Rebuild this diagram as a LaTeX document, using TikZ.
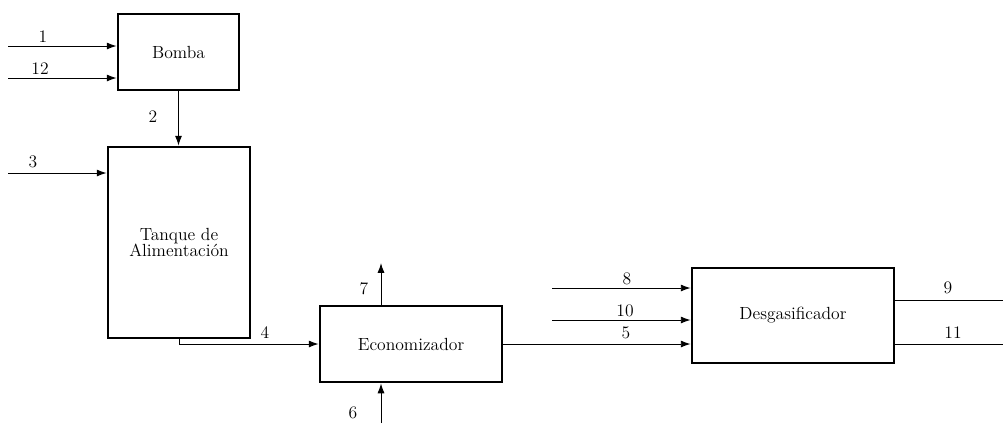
\documentclass[tikz,border=0pt]{standalone}
\usetikzlibrary{arrows.meta, positioning, calc}

\begin{document}
\begin{tikzpicture}[x=0.025cm, y=-0.025cm, font=\fontsize{12.5}{15}\selectfont,
  unit/.style={draw, line width=2pt, inner sep=0pt, align=center},
  flow/.style={-{Latex[length=7pt, width=5pt]}, line width=0.7pt},
  pipe/.style={line width=0.7pt},
  tag/.style={inner sep=1pt}]
  \useasboundingbox (0,0) rectangle (1003,423);

  % ---- Equipment ----
  \node[unit, minimum width={121*0.025cm}, minimum height={76*0.025cm}]
    (bomba) at (178.5, 52) {Bomba};
  \node[unit, minimum width={142*0.025cm}, minimum height={191*0.025cm},
    font=\fontsize{12.5}{11.5}\selectfont]
    (tanque) at (179, 242.5) {Tanque de\\Alimentación};
  \node[unit, minimum width={182*0.025cm}, minimum height={76*0.025cm}]
    (econ) at (411, 344) {Economizador};
  \node[unit, minimum width={202*0.025cm}, minimum height={95*0.025cm}]
    (desg) at (793, 315.5) {Desgasificador};

  % ---- Free ends of the streams ----
  \coordinate (in1)   at (8, 46);
  \coordinate (in12)  at (8, 78);
  \coordinate (in3)   at (8, 173);
  \coordinate (out7)  at (381, 263);
  \coordinate (in6)   at (381, 423);
  \coordinate (in8)   at (552, 288);
  \coordinate (in10)  at (552, 320);
  \coordinate (out9)  at (1003, 300);
  \coordinate (out11) at (1003, 344);

  % ---- Streams ----
  \draw[flow] (in1) -- (in1 -| bomba.west);
  \draw[flow] (in12) -- (in12 -| bomba.west);
  \draw[flow] (bomba.south) -- (bomba.south |- tanque.north);
  \draw[flow] (in3) -- (in3 -| tanque.west);
  \draw[flow] (tanque.south) |- (econ.west);
  \draw[flow] (out7 |- econ.north) -- (out7);
  \draw[flow] (in6) -- (in6 |- econ.south);
  \draw[flow] (econ.east) -- (econ.east -| desg.west);
  \draw[flow] (in8) -- (in8 -| desg.west);
  \draw[flow] (in10) -- (in10 -| desg.west);
  \draw[pipe] (out9 -| desg.east) -- (out9);
  \draw[pipe] (out11 -| desg.east) -- (out11);

  % ---- Stream numbers ----
  \node[tag] (n1)  at (43, 37)   {1};
  \node[tag] (n12) at (40, 69)   {12};
  \node[tag] (n2)  at (153, 117) {2};
  \node[tag] (n3)  at (33, 162)  {3};
  \node[tag] (n4)  at (265, 333) {4};
  \node[tag] (n7)  at (364, 289) {7};
  \node[tag] (n6)  at (353, 413) {6};
  \node[tag] (n5)  at (626, 333) {5};
  \node[tag] (n8)  at (627, 279) {8};
  \node[tag] (n10) at (625, 311) {10};
  \node[tag] (n9)  at (948, 288) {9};
  \node[tag] (n11) at (953, 333) {11};
\end{tikzpicture}
\end{document}
